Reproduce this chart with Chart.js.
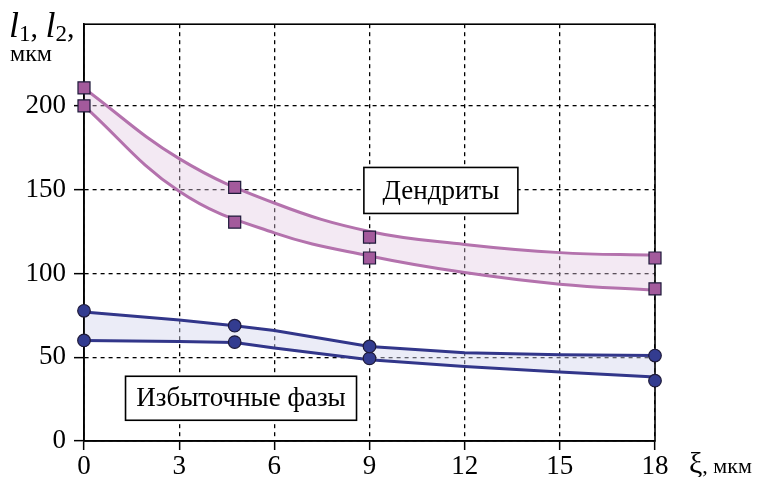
<!DOCTYPE html>
<html>
<head>
<meta charset="utf-8">
<script src="https://cdn.jsdelivr.net/npm/chart.js@4/dist/chart.umd.min.js"></script>
<style>
html,body{margin:0;padding:0;background:#fff;}
#wrap{width:762px;height:477px;position:relative;}
</style>
</head>
<body>
<div id="wrap"><canvas id="c" width="762" height="477"></canvas></div>
<script>
// ---- data ----
const xTicks = [0, 3, 6, 9, 12, 15, 18];
const yTicks = [0, 50, 100, 150, 200];

// fitted curves
const dendCurveX = [0, 3, 6, 9, 12, 15, 18];
const dendUpperCurve = [210.5, 168.5, 142, 125, 117.3, 112.4, 110.8];
const dendLowerCurve = [200, 149, 124.2, 110.4, 100.5, 93.6, 90];
const phaseCurveX = [0, 3, 4.75, 6, 9, 12, 15, 18];
const phaseUpperCurve = [77, 72.2, 68.8, 65.9, 56.4, 52.6, 51.4, 51];
const phaseLowerCurve = [60, 59.3, 58.8, 55.5, 48.5, 44.5, 41.1, 38.2];

// measured points
const markX = [0, 4.75, 9, 18];
const dendUpperPts = [210.7, 151.3, 121.7, 109.2];
const dendLowerPts = [200, 130.6, 109.2, 90.8];
const phaseUpperPts = [77.7, 68.8, 56.4, 51];
const phaseLowerPts = [60, 59, 49.3, 36];

const labelDend = 'Дендриты';
const labelPhase = 'Избыточные фазы';
const yTitleUnit = 'мкм';
const xTitleUnit = ', мкм';

// ---- helpers ----
const pts = (xs, ys) => xs.map((x, i) => ({x: x, y: ys[i]}));
const SERIF = '"Liberation Serif", "DejaVu Serif", serif';
const pink = '#b472ad';
const pinkFill = 'rgba(225,200,225,0.4)';
const navy = '#32368a';
const navyFill = 'rgba(210,212,238,0.45)';

function curve(data, color, fill, fillColor, smooth) {
  return {
    data: data, showLine: true, borderColor: color, borderWidth: 3,
    pointRadius: 0, pointHoverRadius: 0, fill: fill, backgroundColor: fillColor,
    tension: smooth ? 0.4 : 0, clip: 4,
    order: 2
  };
}
function marks(data, style, fillColor, radius) {
  return {
    data: data, showLine: false, pointStyle: style, pointRadius: radius,
    pointBackgroundColor: fillColor, pointBorderColor: '#1e1a3a', pointBorderWidth: 1.2,
    clip: false, fill: false, order: 0
  };
}

const framePlugin = {
  id: 'frame',
  beforeDatasetsDraw(chart) {
    const {ctx, chartArea: a} = chart;
    ctx.save();
    ctx.strokeStyle = '#000';
    ctx.lineWidth = 1.6;
    ctx.strokeRect(a.left, a.top, a.right - a.left, a.bottom - a.top);
    ctx.restore();
  }
};

const textPlugin = {
  id: 'texts',
  afterDatasetsDraw(chart) {
    const {ctx} = chart;
    const xs = chart.scales.x, ys = chart.scales.y;
    ctx.save();
    const box = (cx, cy, w, h, txt) => {
      const px = xs.getPixelForValue(cx), py = ys.getPixelForValue(cy);
      ctx.fillStyle = '#fff';
      ctx.fillRect(px - w / 2, py - h / 2, w, h);
      ctx.strokeStyle = '#000';
      ctx.lineWidth = 1.6;
      ctx.strokeRect(px - w / 2, py - h / 2, w, h);
      ctx.fillStyle = '#000';
      ctx.font = '27px ' + SERIF;
      ctx.textAlign = 'center';
      ctx.textBaseline = 'middle';
      ctx.fillText(txt, px, py + 1);
    };
    box(11.25, 149.5, 154, 46, labelDend);
    box(4.95, 25.5, 231, 44, labelPhase);

    ctx.textAlign = 'left';
    ctx.textBaseline = 'alphabetic';
    ctx.fillStyle = '#000';
    let x = 9;
    const base = 37;
    const part = (t, font, dy) => {
      ctx.font = font;
      ctx.fillText(t, x, base + (dy || 0));
      x += ctx.measureText(t).width;
    };
    part('l', 'italic 36px ' + SERIF);
    part('1', '23px ' + SERIF, 4);
    part(', ', '30px ' + SERIF);
    part('l', 'italic 36px ' + SERIF);
    part('2', '23px ' + SERIF, 4);
    part(',', '30px ' + SERIF);
    ctx.font = '24px ' + SERIF;
    ctx.fillText(yTitleUnit, 10, 61);

    let xx = 689;
    ctx.font = '30px ' + SERIF;
    ctx.fillText('ξ', xx, 473);
    xx += ctx.measureText('ξ').width;
    ctx.font = '22px ' + SERIF;
    ctx.fillText(xTitleUnit, xx, 473);
    ctx.restore();
  }
};

new Chart(document.getElementById('c'), {
  type: 'scatter',
  data: {
    datasets: [
      curve(pts(dendCurveX, dendUpperCurve), pink, '+1', pinkFill, true),
      curve(pts(dendCurveX, dendLowerCurve), pink, false, pinkFill, true),
      curve(pts(phaseCurveX, phaseUpperCurve), navy, '+1', navyFill, false),
      curve(pts(phaseCurveX, phaseLowerCurve), navy, false, navyFill, false),
      marks(pts(markX, dendUpperPts), 'rect', '#a35a9c', 8.5),
      marks(pts(markX, dendLowerPts), 'rect', '#a35a9c', 8.5),
      marks(pts(markX, phaseUpperPts), 'circle', '#333c90', 6.3),
      marks(pts(markX, phaseLowerPts), 'circle', '#333c90', 6.3)
    ]
  },
  options: {
    responsive: false,
    animation: false,
    events: [],
    layout: {padding: {left: 0, right: 107, top: 22, bottom: 0}},
    plugins: {
      legend: {display: false}, tooltip: {enabled: false},
      filler: {drawTime: 'beforeDatasetsDraw'}
    },
    scales: {
      x: {
        type: 'linear', min: 0, max: 18,
        afterBuildTicks(s) { s.ticks = xTicks.map(v => ({value: v})); },
        afterFit(s) { s.height = 36; },
        grid: {color: '#000', lineWidth: 1.3, tickLength: 9, tickColor: '#000', tickWidth: 1.5, tickBorderDash: []},
        border: {display: true, color: '#000', width: 1.6, dash: [4, 4]},
        ticks: {color: '#000', font: {family: SERIF, size: 27}, padding: 1, maxRotation: 0}
      },
      y: {
        type: 'linear', min: 0, max: 248.7,
        afterBuildTicks(s) { s.ticks = yTicks.map(v => ({value: v})); },
        afterFit(s) { s.width = 84; },
        grid: {color: '#000', lineWidth: 1.3, tickLength: 10, tickColor: '#000', tickWidth: 1.5, tickBorderDash: []},
        border: {display: true, color: '#000', width: 1.6, dash: [4, 4]},
        ticks: {color: '#000', font: {family: SERIF, size: 27}, padding: 8}
      }
    }
  },
  plugins: [framePlugin, textPlugin]
});
</script>
</body>
</html>
